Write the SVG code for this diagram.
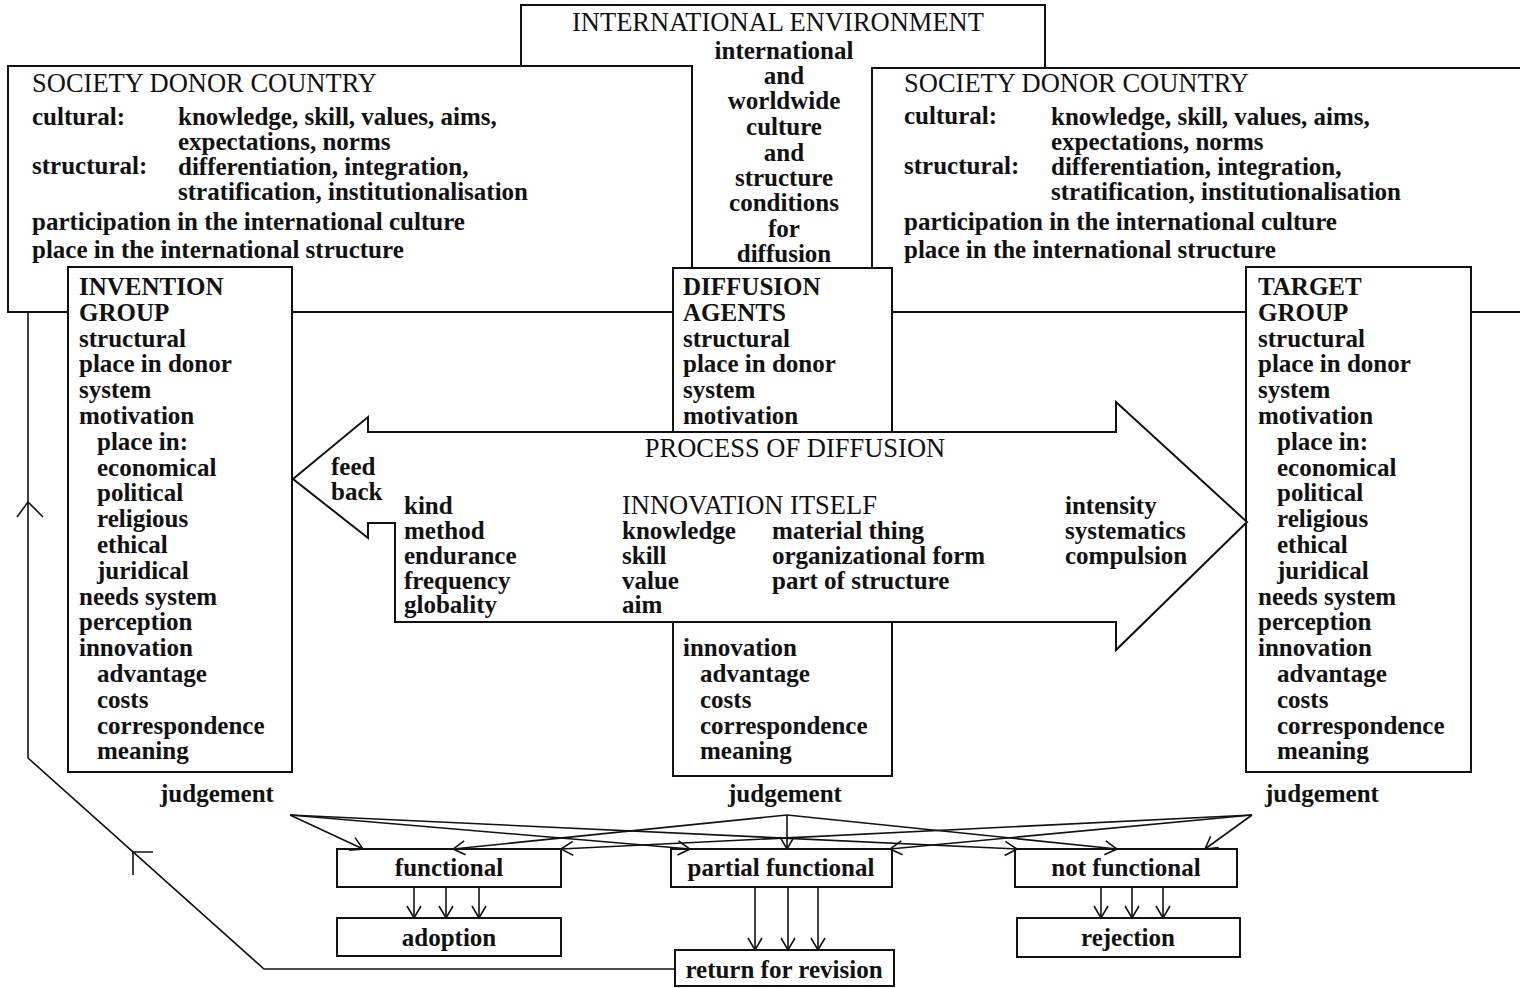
<svg xmlns="http://www.w3.org/2000/svg" width="1520" height="988" viewBox="0 0 1520 988">
  <defs>
    <style>
      .box { fill: #fff; stroke: #111; stroke-width: 2; }
      .ln { fill: none; stroke: #111; stroke-width: 1.6; }
      .b { font-family: "Liberation Serif", "Times New Roman", serif; font-weight: bold; font-size: 25px; fill: #111; }
      .r { font-family: "Liberation Serif", "Times New Roman", serif; font-weight: normal; font-size: 26.5px; fill: #111; }
      .c { text-anchor: middle; }
    </style>
    <marker id="chev" viewBox="-14 -8 16 16" markerWidth="16" markerHeight="16" refX="0" refY="0" orient="auto" markerUnits="userSpaceOnUse" overflow="visible">
      <path d="M -12 -7 L 0 0 L -12 7" fill="none" stroke="#111" stroke-width="1.6"/>
    </marker>
  </defs>

  <rect width="1520" height="988" fill="#fff"/>

  <!-- international environment (background frame) -->
  <g id="intl-environment">
    <rect class="box" x="521" y="5" width="524" height="290"/>
    <text class="r" x="572" y="31">INTERNATIONAL ENVIRONMENT</text>
  </g>

  <!-- society of the donor country, left -->
  <g id="society-left">
    <rect class="box" x="8" y="66" width="684" height="246"/>
    <text class="r" x="32" y="92">SOCIETY DONOR COUNTRY</text>
    <text class="b" x="32" y="125">cultural:</text>
    <text class="b" x="178" y="125">knowledge, skill, values, aims,</text>
    <text class="b" x="178" y="150">expectations, norms</text>
    <text class="b" x="32" y="174">structural:</text>
    <text class="b" x="178" y="175">differentiation, integration,</text>
    <text class="b" x="178" y="200">stratification, institutionalisation</text>
    <text class="b" x="32" y="230">participation in the international culture</text>
    <text class="b" x="32" y="258">place in the international structure</text>
  </g>

  <!-- society of the donor country, right -->
  <g id="society-right">
    <rect class="box" x="872" y="68" width="660" height="244"/>
    <text class="r" x="904" y="92">SOCIETY DONOR COUNTRY</text>
    <text class="b" x="904" y="124">cultural:</text>
    <text class="b" x="1051" y="125">knowledge, skill, values, aims,</text>
    <text class="b" x="1051" y="150">expectations, norms</text>
    <text class="b" x="904" y="174">structural:</text>
    <text class="b" x="1051" y="175">differentiation, integration,</text>
    <text class="b" x="1051" y="200">stratification, institutionalisation</text>
    <text class="b" x="904" y="230">participation in the international culture</text>
    <text class="b" x="904" y="258">place in the international structure</text>
  </g>

  <!-- conditions column inside the international environment -->
  <g id="intl-conditions">
    <text class="b c" x="784" y="59">international</text>
    <text class="b c" x="784" y="84">and</text>
    <text class="b c" x="784" y="109">worldwide</text>
    <text class="b c" x="784" y="135">culture</text>
    <text class="b c" x="784" y="161">and</text>
    <text class="b c" x="784" y="186">structure</text>
    <text class="b c" x="784" y="211">conditions</text>
    <text class="b c" x="784" y="237">for</text>
    <text class="b c" x="784" y="262">diffusion</text>
  </g>

  <!-- invention group -->
  <g id="invention-group">
    <rect class="box" x="68" y="267" width="224" height="505"/>
    <text class="b">
      <tspan x="79" y="295">INVENTION</tspan>
      <tspan x="79" y="321">GROUP</tspan>
      <tspan x="79" y="347">structural</tspan>
      <tspan x="79" y="372">place in donor</tspan>
      <tspan x="79" y="398">system</tspan>
      <tspan x="79" y="424">motivation</tspan>
      <tspan x="97" y="450">place in:</tspan>
      <tspan x="97" y="476">economical</tspan>
      <tspan x="97" y="501">political</tspan>
      <tspan x="97" y="527">religious</tspan>
      <tspan x="97" y="553">ethical</tspan>
      <tspan x="97" y="579">juridical</tspan>
      <tspan x="79" y="605">needs system</tspan>
      <tspan x="79" y="630">perception</tspan>
      <tspan x="79" y="656">innovation</tspan>
      <tspan x="97" y="682">advantage</tspan>
      <tspan x="97" y="708">costs</tspan>
      <tspan x="97" y="734">correspondence</tspan>
      <tspan x="97" y="759">meaning</tspan>
    </text>
  </g>

  <!-- target group -->
  <g id="target-group">
    <rect class="box" x="1246" y="267" width="225" height="505"/>
    <text class="b">
      <tspan x="1258" y="295">TARGET</tspan>
      <tspan x="1258" y="321">GROUP</tspan>
      <tspan x="1258" y="347">structural</tspan>
      <tspan x="1258" y="372">place in donor</tspan>
      <tspan x="1258" y="398">system</tspan>
      <tspan x="1258" y="424">motivation</tspan>
      <tspan x="1277" y="450">place in:</tspan>
      <tspan x="1277" y="476">economical</tspan>
      <tspan x="1277" y="501">political</tspan>
      <tspan x="1277" y="527">religious</tspan>
      <tspan x="1277" y="553">ethical</tspan>
      <tspan x="1277" y="579">juridical</tspan>
      <tspan x="1258" y="605">needs system</tspan>
      <tspan x="1258" y="630">perception</tspan>
      <tspan x="1258" y="656">innovation</tspan>
      <tspan x="1277" y="682">advantage</tspan>
      <tspan x="1277" y="708">costs</tspan>
      <tspan x="1277" y="734">correspondence</tspan>
      <tspan x="1277" y="759">meaning</tspan>
    </text>
  </g>

  <!-- diffusion agents (the process arrow runs across its middle) -->
  <g id="diffusion-agents">
    <rect class="box" x="673" y="268" width="219" height="508"/>
    <text class="b">
      <tspan x="683" y="295">DIFFUSION</tspan>
      <tspan x="683" y="321">AGENTS</tspan>
      <tspan x="683" y="347">structural</tspan>
      <tspan x="683" y="372">place in donor</tspan>
      <tspan x="683" y="398">system</tspan>
      <tspan x="683" y="424">motivation</tspan>
      <tspan x="683" y="656">innovation</tspan>
      <tspan x="700" y="682">advantage</tspan>
      <tspan x="700" y="708">costs</tspan>
      <tspan x="700" y="734">correspondence</tspan>
      <tspan x="700" y="759">meaning</tspan>
    </text>
  </g>

  <!-- process of diffusion: double arrow with feedback head -->
  <g id="process-arrow">
    <polygon class="box" points="293,479 368,417 368,432 1116,432 1116,402 1247,522 1116,650 1116,622 395,622 395,523 368,523 368,538"/>
    <text class="r c" x="795" y="457">PROCESS OF DIFFUSION</text>
    <text class="b" x="331" y="475">feed</text>
    <text class="b" x="331" y="500">back</text>
    <text class="b">
      <tspan x="404" y="514">kind</tspan>
      <tspan x="404" y="539">method</tspan>
      <tspan x="404" y="564">endurance</tspan>
      <tspan x="404" y="589">frequency</tspan>
      <tspan x="404" y="613">globality</tspan>
    </text>
    <text class="r" x="622" y="514">INNOVATION ITSELF</text>
    <text class="b">
      <tspan x="622" y="539">knowledge</tspan>
      <tspan x="622" y="564">skill</tspan>
      <tspan x="622" y="589">value</tspan>
      <tspan x="622" y="613">aim</tspan>
    </text>
    <text class="b">
      <tspan x="772" y="539">material thing</tspan>
      <tspan x="772" y="564">organizational form</tspan>
      <tspan x="772" y="589">part of structure</tspan>
    </text>
    <text class="b">
      <tspan x="1065" y="514">intensity</tspan>
      <tspan x="1065" y="539">systematics</tspan>
      <tspan x="1065" y="564">compulsion</tspan>
    </text>
  </g>

  <!-- judgements -->
  <g id="judgements">
    <text class="b" x="160" y="802">judgement</text>
    <text class="b" x="728" y="802">judgement</text>
    <text class="b" x="1265" y="802">judgement</text>
  </g>

  <!-- outcome boxes -->
  <g id="functional">
    <rect class="box" x="337" y="849" width="224" height="38"/>
    <text class="b c" x="449" y="876">functional</text>
  </g>
  <g id="partial-functional">
    <rect class="box" x="671" y="849" width="221" height="38"/>
    <text class="b c" x="781" y="876">partial functional</text>
  </g>
  <g id="not-functional">
    <rect class="box" x="1015" y="849" width="222" height="38"/>
    <text class="b c" x="1126" y="876">not functional</text>
  </g>
  <g id="adoption">
    <rect class="box" x="337" y="918" width="224" height="38"/>
    <text class="b c" x="449" y="946">adoption</text>
  </g>
  <g id="return-for-revision">
    <rect class="box" x="675" y="950" width="219" height="36"/>
    <text class="b c" x="784" y="978">return for revision</text>
  </g>
  <g id="rejection">
    <rect class="box" x="1017" y="918" width="223" height="39"/>
    <text class="b c" x="1128" y="946">rejection</text>
  </g>

  <!-- connectors -->
  <g id="connectors">
    <!-- judgement fans -->
    <g class="ln" marker-end="url(#chev)">
      <line x1="290" y1="815" x2="363" y2="849"/>
      <line x1="290" y1="815" x2="690" y2="849"/>
      <line x1="290" y1="815" x2="1017" y2="849"/>
      <line x1="787" y1="815" x2="453" y2="849"/>
      <line x1="787" y1="815" x2="787" y2="849"/>
      <line x1="787" y1="815" x2="1117" y2="849"/>
      <line x1="1252" y1="815" x2="561" y2="849"/>
      <line x1="1252" y1="815" x2="890" y2="849"/>
      <line x1="1252" y1="815" x2="1205" y2="849"/>
    </g>
    <!-- outcomes -->
    <g class="ln" marker-end="url(#chev)">
      <line x1="414" y1="887" x2="414" y2="918"/>
      <line x1="446" y1="887" x2="446" y2="918"/>
      <line x1="479" y1="887" x2="479" y2="918"/>
      <line x1="755" y1="887" x2="755" y2="950"/>
      <line x1="788" y1="887" x2="788" y2="950"/>
      <line x1="818" y1="887" x2="818" y2="950"/>
      <line x1="1101" y1="887" x2="1101" y2="918"/>
      <line x1="1132" y1="887" x2="1132" y2="918"/>
      <line x1="1163" y1="887" x2="1163" y2="918"/>
    </g>
    <!-- feedback loop from revision back to the donor society -->
    <polyline class="ln" points="675,969 264,969 28,758 28,312"/>
    <polyline class="ln" points="153,852 133,852 133,875"/>
    <polyline class="ln" points="17,517 28,502 43,517"/>
  </g>
</svg>
